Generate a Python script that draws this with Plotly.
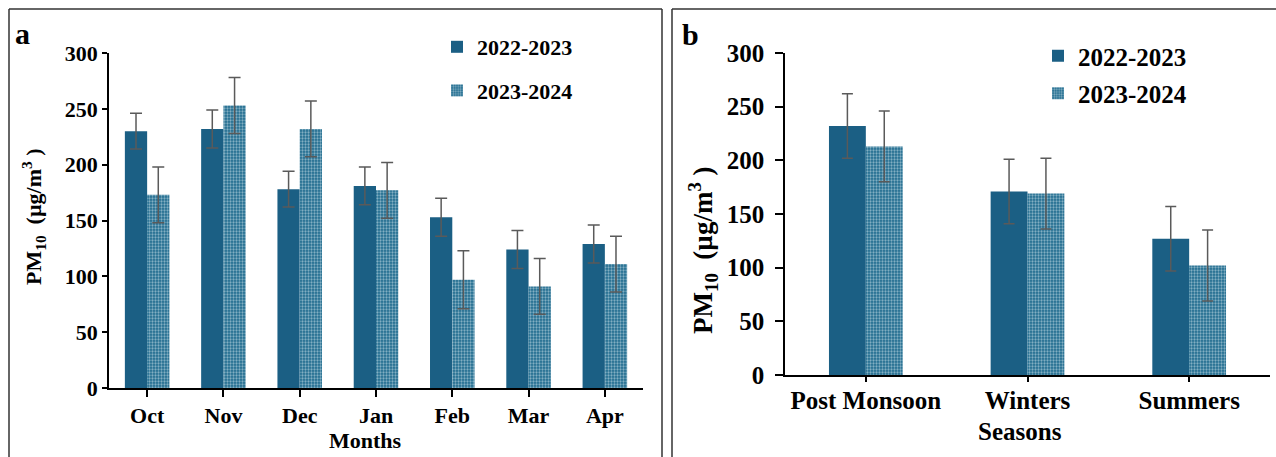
import plotly.graph_objects as go

# ---------------- data ----------------
months = ["Oct", "Nov", "Dec", "Jan", "Feb", "Mar", "Apr"]
m_2223 = [230, 232, 178, 181, 153, 124, 129]
m_2223_err = [16, 17, 16, 17, 17, 17, 17]
m_2324 = [173, 253, 232, 177, 97, 91, 111]
m_2324_err = [25, 25, 25, 25, 26, 25, 25]

seasons = ["Post Monsoon", "Winters", "Summers"]
s_2223 = [232, 171, 127]
s_2223_err = [30, 30, 30]
s_2324 = [213, 169, 102]
s_2324_err = [33, 33, 33]

series_names = ["2022-2023", "2023-2024"]
y_ticks = [0, 50, 100, 150, 200, 250, 300]

# ---------------- style ----------------
W, H = 1276, 457
SOLID = "#1b5f84"
FONT = "Liberation Serif, Times New Roman, serif"
ERR_COL = "#5a5a5a"


def px(x):
    return x / W


def py(y):
    return 1 - y / H


pattern = dict(shape=".", fgcolor="#e6f1f5", bgcolor="#1f6b8e", size=3, solidity=0.45)

fig = go.Figure()

# panel a
wa = 0.292
fig.add_trace(go.Bar(x=months, y=m_2223, name=series_names[0], marker=dict(color=SOLID, line=dict(width=0)),
                     width=wa, offset=-wa, xaxis="x", yaxis="y", legend="legend", legendgroup="a1",
                     error_y=dict(type="data", array=m_2223_err, color=ERR_COL, thickness=1.5, width=6)))
fig.add_trace(go.Bar(x=months, y=m_2324, name=series_names[1], marker=dict(color="#1f6b8e", pattern=pattern, line=dict(width=0)),
                     width=wa, offset=0, xaxis="x", yaxis="y", legend="legend", legendgroup="a2",
                     error_y=dict(type="data", array=m_2324_err, color=ERR_COL, thickness=1.5, width=6)))
# panel b
wb = 0.228
fig.add_trace(go.Bar(x=seasons, y=s_2223, name=series_names[0], marker=dict(color=SOLID, line=dict(width=0)),
                     width=wb, offset=-wb, xaxis="x2", yaxis="y2", legend="legend2", legendgroup="b1",
                     error_y=dict(type="data", array=s_2223_err, color=ERR_COL, thickness=1.5, width=5.5)))
fig.add_trace(go.Bar(x=seasons, y=s_2324, name=series_names[1], marker=dict(color="#1f6b8e", pattern=pattern, line=dict(width=0)),
                     width=wb, offset=0, xaxis="x2", yaxis="y2", legend="legend2", legendgroup="b2",
                     error_y=dict(type="data", array=s_2324_err, color=ERR_COL, thickness=1.5, width=5.5)))

axis_common = dict(showline=True, linecolor="black", linewidth=1.5, ticks="outside", tickcolor="black",
                   tickwidth=1.5, showgrid=False, zeroline=False, automargin=False)

fig.update_layout(
    width=W, height=H, margin=dict(l=0, r=0, t=0, b=0, autoexpand=False),
    paper_bgcolor="white", plot_bgcolor="white", barmode="overlay",
    font=dict(family=FONT, color="black"),
    xaxis=dict(domain=[px(109), px(643)], anchor="y", type="category", range=[-0.5, 6.5],
               ticklen=7, tickfont=dict(size=22, family=FONT, weight="bold"), ticklabelstandoff=0, **axis_common),
    yaxis=dict(domain=[py(388), py(53)], anchor="x", range=[0, 300], tickvals=y_ticks,
               ticklen=5, tickfont=dict(size=22, family=FONT, weight="bold"), **axis_common),
    xaxis2=dict(domain=[px(785), px(1270)], anchor="y2", type="category", range=[-0.5, 2.5],
                ticklen=5, tickfont=dict(size=25, family=FONT, weight="bold"), ticklabelstandoff=-3, **axis_common),
    yaxis2=dict(domain=[py(375), py(53)], anchor="x2", range=[0, 300], tickvals=y_ticks,
                ticklen=8, tickfont=dict(size=25, family=FONT, weight="bold"), ticklabelstandoff=6, **axis_common),
    legend=dict(x=px(437), y=py(26), xanchor="left", yanchor="top", bgcolor="rgba(0,0,0,0)",
                font=dict(size=22, family=FONT, weight="bold"), traceorder="grouped", tracegroupgap=12,
                itemwidth=30),
    legend2=dict(x=px(1038), y=py(33), xanchor="left", yanchor="top", bgcolor="rgba(0,0,0,0)",
                 font=dict(size=25, family=FONT, weight="bold"), traceorder="grouped", tracegroupgap=2,
                 itemwidth=30),
)

ann_font = dict(family=FONT, color="black", weight="bold")
annotations = [
    dict(text="Months", x=px(365), y=py(440), font=dict(size=22, **ann_font)),
    dict(text="Seasons", x=px(1020), y=py(431), font=dict(size=25, **ann_font)),
    dict(text="PM<sub>10</sub>  (µg/m<sup>3</sup> )", x=px(34), y=py(217), textangle=-90, font=dict(size=22, **ann_font)),
    dict(text="PM<sub>10</sub>  (µg/m<sup>3</sup> )", x=px(703), y=py(250), textangle=-90, font=dict(size=27, **ann_font)),
    dict(text="a", x=px(22), y=py(34), font=dict(size=30, **ann_font)),
    dict(text="b", x=px(690), y=py(35), font=dict(size=30, **ann_font)),
]
for a in annotations:
    a.update(xref="paper", yref="paper", showarrow=False, xanchor="center", yanchor="middle")
fig.update_layout(annotations=annotations)

# panel frames
frame = dict(color="#333333", width=1.5)
shapes = [
    dict(type="line", x0=px(9), x1=px(9), y0=py(9), y1=py(470), line=frame),
    dict(type="line", x0=px(9), x1=px(662), y0=py(9), y1=py(9), line=frame),
    dict(type="line", x0=px(662), x1=px(662), y0=py(9), y1=py(470), line=frame),
    dict(type="line", x0=px(672), x1=px(672), y0=py(9), y1=py(470), line=frame),
    dict(type="line", x0=px(672), x1=px(1290), y0=py(9), y1=py(9), line=frame),
]
for s in shapes:
    s.update(xref="paper", yref="paper")
fig.update_layout(shapes=shapes)

fig.write_html("out.html")
